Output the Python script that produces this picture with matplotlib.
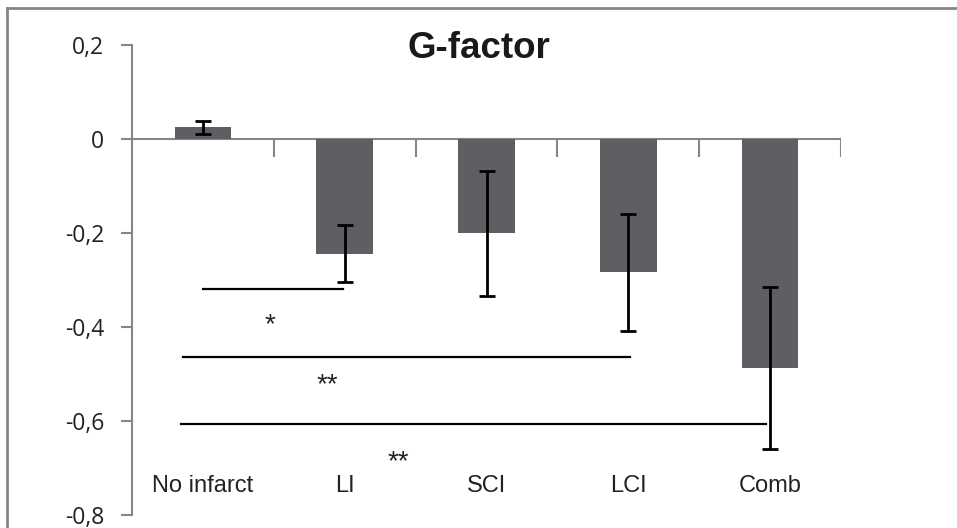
import matplotlib as mpl
import matplotlib.pyplot as plt
import numpy as np
from matplotlib.lines import Line2D

mpl.rcParams['font.family'] = ['Liberation Sans', 'DejaVu Sans']

# data
groups = ['No infarct', 'LI', 'SCI', 'LCI', 'Comb']
means = [0.025, -0.244, -0.201, -0.284, -0.487]
errs = [0.014, 0.061, 0.132, 0.124, 0.173]

y_ticks = [0.2, 0.0, -0.2, -0.4, -0.6, -0.8]
y_labels = ['0,2', '0', '-0,2', '-0,4', '-0,6', '-0,8']

# significance brackets: line from x0 to x1 at sig_y, stars below
sig_x0 = [0.0, -0.14, -0.155]
sig_x1 = [0.99, 3.01, 3.97]
sig_y = [-0.3185, -0.463, -0.606]
star_x = [0.47, 0.88, 1.38]
star_y = [-0.378, -0.506, -0.669]
star_txt = ['*', '**', '**']

BAR_COLOR = '#5e5f63'
AXIS_GRAY = '#868686'

fig = plt.figure(figsize=(9.57, 5.28), dpi=100)
ax = fig.add_axes([132 / 957, 1 - 515 / 528, (841 - 132) / 957, (515 - 45) / 528])

x = np.arange(len(groups))
ax.bar(x, means, width=0.4, color=BAR_COLOR, zorder=2)
ax.errorbar(x, means, yerr=errs, fmt='none', ecolor='black', elinewidth=2,
            capsize=6, capthick=2, zorder=3)

ax.set_xlim(-0.5, len(groups) - 0.5)
ax.set_ylim(-0.8, 0.2)

# zero line with category separators hanging below it
ax.axhline(0, color=AXIS_GRAY, lw=1.5, zorder=1)
for b in np.arange(0.5, len(groups), 1.0):
    ax.plot([b, b], [0, -0.036], color=AXIS_GRAY, lw=1.5, zorder=1)

for s in ['top', 'right', 'bottom']:
    ax.spines[s].set_visible(False)
ax.spines['left'].set_color(AXIS_GRAY)
ax.spines['left'].set_linewidth(1.5)

ax.set_xticks([])
ax.set_yticks(y_ticks)
ax.set_yticklabels(y_labels, fontsize=16.5, family=['Open Sans', 'DejaVu Sans'], color='#222222')
ax.tick_params(axis='y', direction='out', length=8, width=1.5, color=AXIS_GRAY, pad=12)

for xi, name in zip(x, groups):
    ax.text(xi, -0.738, name, ha='center', va='center', fontsize=17, color='#222222')

for x0, x1, yy in zip(sig_x0, sig_x1, sig_y):
    ax.plot([x0, x1], [yy, yy], color='black', lw=1.6, zorder=4)
# asterisks sit high in the text box, so nudge them down a bit
for sx, sy, t in zip(star_x, star_y, star_txt):
    ax.text(sx, sy - 0.018, t, ha='center', va='center', fontsize=20, color='#222222')

fig.text(0.5, 1 - 48 / 528, 'G-factor', ha='center', va='center',
         fontsize=26.5, fontweight='bold', color='#1a1a1a')

# outer chart frame (only top and left edges visible in the crop)
fig.add_artist(Line2D([7 / 957, 7 / 957], [0, 1 - 8 / 528], transform=fig.transFigure,
                      color=AXIS_GRAY, lw=2))
fig.add_artist(Line2D([7 / 957, 1], [1 - 8 / 528, 1 - 8 / 528], transform=fig.transFigure,
                      color=AXIS_GRAY, lw=2))

fig.savefig('out.png', dpi=100)
